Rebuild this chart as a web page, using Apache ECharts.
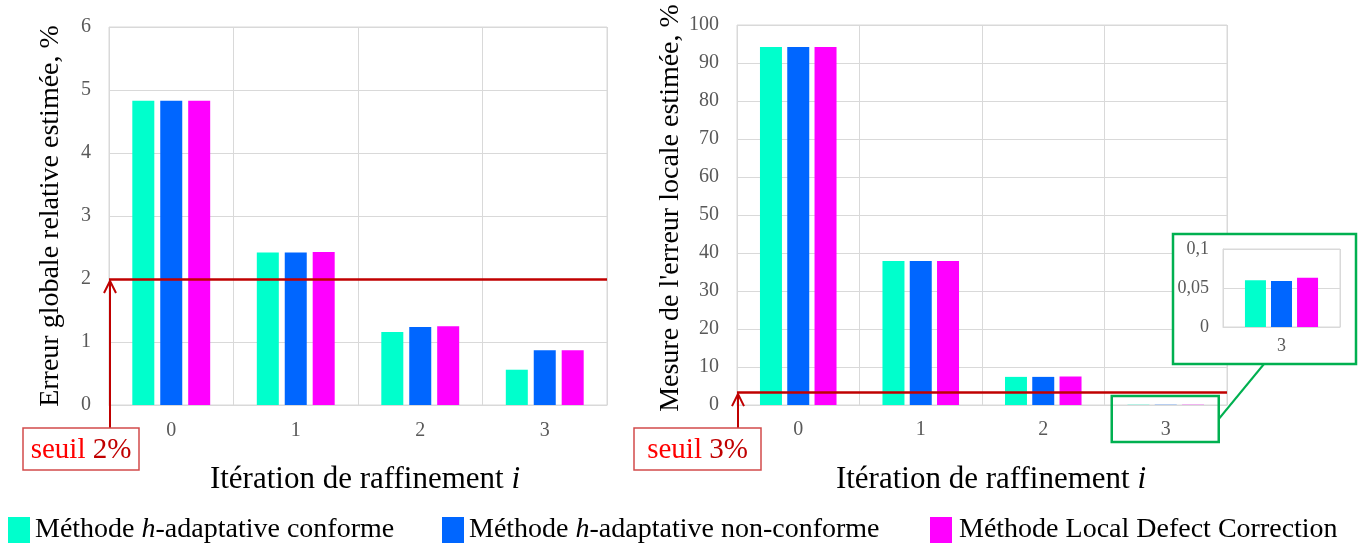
<!DOCTYPE html>
<html>
<head>
<meta charset="utf-8">
<script src="https://cdn.jsdelivr.net/npm/echarts@6/dist/echarts.min.js"></script>
<style>html,body{margin:0;padding:0;background:#fff;}#c{width:1363px;height:548px;}</style>
</head>
<body>
<div id="c"></div>
<script>
// ---- data ----
const categories = ['0', '1', '2', '3'];
const seriesNames = ['Méthode h-adaptative conforme', 'Méthode h-adaptative non-conforme', 'Méthode Local Defect Correction'];
const conformeGlobal = [4.83, 2.42, 1.16, 0.56];
const nonConformeGlobal = [4.83, 2.42, 1.24, 0.87];
const ldcGlobal = [4.83, 2.43, 1.25, 0.87];
const conformeLocal = [94.2, 37.9, 7.4, 0.060];
const nonConformeLocal = [94.2, 37.9, 7.4, 0.059];
const ldcLocal = [94.2, 37.9, 7.5, 0.063];
const insetCategories = ['3'];
const insetConforme = [0.060];
const insetNonConforme = [0.059];
const insetLdc = [0.063];
const seuilGlobal = 2;
const seuilLocalLine = 3.4;
const seuilGlobalLabel = '2%';
const seuilLocalLabel = '3%';

const colors = ['#00FFCC', '#0066FF', '#FF00FF'];
const serif = '"Liberation Serif", "Times New Roman", serif';
const gridColor = '#D9D9D9';
const tickColor = '#595959';

function legendLabel(name) {
  return name.replace(' h-', ' {i|h}-');
}

const chart = echarts.init(document.getElementById('c'), null, {renderer: 'canvas'});

function catAxis(gi, data, fontSize, margin, showName, shift) {
  return {
    type: 'category', gridIndex: gi, data: data,
    axisLine: {show: true, lineStyle: {color: gridColor, width: 1}},
    axisTick: {show: false},
    axisLabel: {color: tickColor, fontFamily: serif, fontSize: fontSize, margin: margin},
    splitLine: {show: true, lineStyle: {color: gridColor, width: 1}},
    name: showName ? 'Itération de raffinement {i|i}' : '',
    nameLocation: 'middle', nameGap: 59,
    nameTextStyle: {color: '#000', fontFamily: serif, fontSize: 31, padding: [0, 0, 0, shift || 0],
      rich: {i: {fontStyle: 'italic', fontFamily: serif, fontSize: 31, color: '#000'}}},
    z: gi === 2 ? 5 : 0
  };
}
function valAxis(gi, min, max, interval, fontSize, margin, name, formatter, shift) {
  return {
    type: 'value', gridIndex: gi, min: min, max: max, interval: interval,
    axisLine: {show: gi === 2, lineStyle: {color: gridColor}},
    axisTick: {show: false},
    axisLabel: {color: tickColor, fontFamily: serif, fontSize: fontSize, margin: margin, formatter: formatter},
    splitLine: {show: true, lineStyle: {color: gridColor, width: 1}},
    name: name, nameLocation: 'middle', nameRotate: 90, nameGap: gi === 0 ? 44 : 47,
    nameTextStyle: {color: '#000', fontFamily: serif, fontSize: 28, padding: [0, 0, 0, shift || 0]},
    z: gi === 2 ? 5 : 0
  };
}
function barSeries(name, gi, data, color, width, gap, extra) {
  return Object.assign({
    type: 'bar', name: name, xAxisIndex: gi, yAxisIndex: gi, data: data,
    barWidth: width, barGap: gap, itemStyle: {color: color}, z: gi === 2 ? 6 : 2
  }, extra || {});
}
function thresholdLine(v) {
  return {
    silent: true, symbol: ['none', 'none'], label: {show: false},
    lineStyle: {color: '#C00000', width: 2.5, type: 'solid'},
    data: [{yAxis: v}]
  };
}
function legendFor(i, left, gap) {
  return {
    left: left, top: 511, data: [seriesNames[i]], icon: 'rect',
    itemWidth: 22, itemHeight: 26, itemGap: 0,
    selectedMode: false,
    formatter: legendLabel,
    textStyle: {color: '#000', fontFamily: serif, fontSize: 28, padding: [0, 0, 0, gap],
      rich: {i: {fontStyle: 'italic', fontFamily: serif, fontSize: 28, color: '#000'}}}
  };
}

const fmtComma = v => String(v).replace('.', ',');

chart.setOption({
  animation: false,
  backgroundColor: '#fff',
  grid: [
    {left: 109, right: 756, top: 27, bottom: 143, show: true, borderColor: gridColor, borderWidth: 1},
    {left: 737, right: 136, top: 25, bottom: 143, show: true, borderColor: gridColor, borderWidth: 1},
    {left: 1223, right: 23, top: 249, bottom: 221, show: true, borderColor: gridColor, borderWidth: 1, backgroundColor: '#fff', z: 5}
  ],
  legend: [legendFor(0, 3, 0), legendFor(1, 437, 0), legendFor(2, 925, 2)],
  xAxis: [
    catAxis(0, categories, 20, 16, true, 14),
    catAxis(1, categories, 20, 15, true, 18),
    catAxis(2, insetCategories, 18, 10, false)
  ],
  yAxis: [
    valAxis(0, 0, 6, 1, 20, 18, 'Erreur globale relative estimée, %', fmtComma),
    valAxis(1, 0, 100, 10, 20, 18, "Mesure de l'erreur locale estimée, %", fmtComma, 14),
    valAxis(2, 0, 0.1, 0.05, 18, 14, '', fmtComma)
  ],
  series: [
    barSeries(seriesNames[0], 0, conformeGlobal, colors[0], 22, '27%', {markLine: thresholdLine(seuilGlobal)}),
    barSeries(seriesNames[1], 0, nonConformeGlobal, colors[1], 22, '27%'),
    barSeries(seriesNames[2], 0, ldcGlobal, colors[2], 22, '27%'),
    barSeries(seriesNames[0], 1, conformeLocal, colors[0], 22, '24%', {markLine: thresholdLine(seuilLocalLine)}),
    barSeries(seriesNames[1], 1, nonConformeLocal, colors[1], 22, '24%'),
    barSeries(seriesNames[2], 1, ldcLocal, colors[2], 22, '24%'),
    barSeries(seriesNames[0], 2, insetConforme, colors[0], 21, '24%'),
    barSeries(seriesNames[1], 2, insetNonConforme, colors[1], 21, '24%'),
    barSeries(seriesNames[2], 2, insetLdc, colors[2], 21, '24%')
  ]
});

// ---- annotations positioned from the axes ----
function px(gi, cat, val) {
  return chart.convertToPixel({xAxisIndex: gi, yAxisIndex: gi}, [cat, val]);
}
function gridRect(gi) {
  return chart.getModel().getComponent('grid', gi).coordinateSystem.getRect();
}
const graphics = [];
function seuilAnnot(gi, thrVal, label, boxLeftOff, boxW) {
  const r = gridRect(gi);
  const x0 = r.x + 1;
  const yThr = px(gi, '0', thrVal)[1];
  const yAxis0 = px(gi, '0', 0)[1];
  const boxTop = yAxis0 + 23;
  graphics.push({type: 'polyline', z: 20, shape: {points: [[x0, boxTop], [x0, yThr + 2]]},
    style: {stroke: '#C00000', lineWidth: 2, fill: null}});
  graphics.push({type: 'polyline', z: 20, shape: {points: [[x0 - 6, yThr + 14], [x0, yThr + 2], [x0 + 6, yThr + 14]]},
    style: {stroke: '#C00000', lineWidth: 2, fill: null}});
  graphics.push({type: 'rect', z: 21, shape: {x: x0 - boxLeftOff, y: boxTop, width: boxW, height: 42},
    style: {fill: '#fff', stroke: '#D24B4B', lineWidth: 1.5}});
  graphics.push({type: 'text', z: 22, x: x0 - boxLeftOff + boxW / 2, y: boxTop + 22,
    style: {text: '{a|seuil }{b|' + label + '}', align: 'center', verticalAlign: 'middle',
      rich: {a: {fill: '#FF0000', fontFamily: serif, fontSize: 29},
             b: {fill: '#C00000', fontFamily: serif, fontSize: 29}}}});
}
seuilAnnot(0, seuilGlobal, seuilGlobalLabel, 87, 116);
seuilAnnot(1, seuilLocalLine, seuilLocalLabel, 104, 127);

// inset frame
const ir = gridRect(2);
const frame = {x: ir.x - 50, y: ir.y - 15, w: ir.width + 66, h: ir.height + 52};
graphics.push({type: 'rect', z: 3, shape: {x: frame.x, y: frame.y, width: frame.w, height: frame.h},
  style: {fill: '#fff', stroke: null}});
graphics.push({type: 'rect', z: 30, shape: {x: frame.x, y: frame.y, width: frame.w, height: frame.h},
  style: {fill: null, stroke: '#00B050', lineWidth: 2.5}});
// small box around category 3 in the right chart
const c3 = px(1, '3', 0);
const sb = {x: c3[0] - 54, y: c3[1] - 9, w: 107, h: 46};
graphics.push({type: 'rect', z: 30, shape: {x: sb.x, y: sb.y, width: sb.w, height: sb.h},
  style: {fill: null, stroke: '#00B050', lineWidth: 2.5}});
graphics.push({type: 'line', z: 30, shape: {x1: sb.x + sb.w, y1: sb.y + 23, x2: frame.x + 91, y2: frame.y + frame.h},
  style: {stroke: '#00B050', lineWidth: 2}});

chart.setOption({graphic: {elements: graphics}});
</script>
</body>
</html>
